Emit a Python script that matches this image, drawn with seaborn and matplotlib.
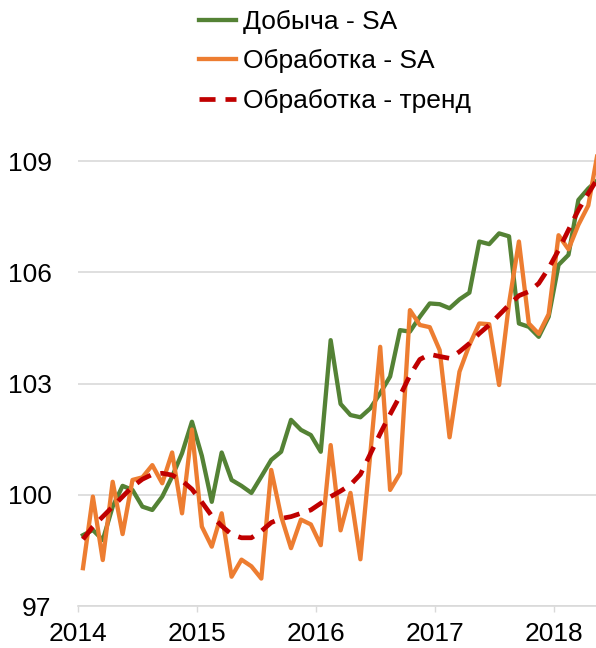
import numpy as np
import pandas as pd
import matplotlib
matplotlib.use("Agg")
import matplotlib.pyplot as plt
import seaborn as sns

# monthly index values, Jan 2014 onwards
mining_sa = [98.91, 99.05, 98.78, 99.68, 100.24, 100.13, 99.68, 99.59, 99.95, 100.49,
             101.12, 101.97, 101.05, 99.81, 101.14, 100.40, 100.24, 100.05, 100.49, 100.94,
             101.16, 102.02, 101.75, 101.61, 101.16, 104.17, 102.45, 102.15, 102.09, 102.33,
             102.74, 103.19, 104.44, 104.40, 104.80, 105.16, 105.14, 105.03, 105.27, 105.45,
             106.83, 106.76, 107.05, 106.97, 104.62, 104.53, 104.26, 104.80, 106.20, 106.47,
             107.95, 108.26, 108.50]
manuf_sa = [98.02, 99.95, 98.24, 100.35, 98.94, 100.40, 100.47, 100.80, 100.31, 101.14,
            99.50, 101.76, 99.14, 98.60, 99.50, 97.79, 98.25, 98.07, 97.74, 100.67,
            99.42, 98.56, 99.33, 99.20, 98.64, 101.34, 99.04, 100.05, 98.26, 101.10,
            103.99, 100.13, 100.58, 104.98, 104.58, 104.52, 103.90, 101.55, 103.32, 104.04,
            104.62, 104.60, 102.96, 105.16, 106.83, 104.62, 104.34, 104.87, 107.00, 106.62,
            107.28, 107.80, 109.30]
manuf_trend = [98.80, 99.14, 99.41, 99.68, 99.95, 100.22, 100.42, 100.55, 100.58, 100.53,
               100.38, 100.15, 99.80, 99.43, 99.16, 98.93, 98.84, 98.84, 99.02, 99.25,
               99.36, 99.41, 99.50, 99.59, 99.77, 99.95, 100.10, 100.27, 100.55, 101.10,
               101.65, 102.17, 102.67, 103.22, 103.65, 103.79, 103.73, 103.68, 103.86, 104.08,
               104.35, 104.58, 104.85, 105.12, 105.37, 105.48, 105.70, 106.11, 106.60, 107.14,
               107.68, 108.13, 108.55]

series_names = ["Добыча - SA", "Обработка - SA", "Обработка - тренд"]
year_ticks = [2014, 2015, 2016, 2017, 2018]
y_ticks = [97, 100, 103, 106, 109]

dates = pd.date_range("2014-01-01", periods=len(mining_sa), freq="MS")
t = dates.year + (dates.month - 0.5) / 12

df = pd.DataFrame({"t": t, "mining": mining_sa, "manuf": manuf_sa, "trend": manuf_trend})

plt.rcParams["font.family"] = ["Liberation Sans", "DejaVu Sans"]
plt.rcParams["font.size"] = 19

fig = plt.figure(figsize=(5.96, 6.48), dpi=100)
ax = fig.add_axes([78 / 596, 42 / 648, 518 / 596, 482 / 648])

sns.lineplot(data=df, x="t", y="mining", ax=ax, color="#548235", lw=3.1, label=series_names[0])
sns.lineplot(data=df, x="t", y="manuf", ax=ax, color="#ED7D31", lw=3.1, label=series_names[1])
sns.lineplot(data=df, x="t", y="trend", ax=ax, color="#C00000", lw=3.4,
             ls=(0, (3.4, 2.1)), label=series_names[2])

ax.set_xlim(2014, 2014 + 518 / 118.9)
ax.set_ylim(97, 110)
ax.set_xticks(year_ticks)
ax.set_xticklabels([str(y) for y in year_ticks])
ax.set_yticks(y_ticks)
ax.set_xlabel("")
ax.set_ylabel("")

ax.grid(axis="y", color="#D9D9D9", lw=1.2)
ax.set_axisbelow(True)
for s in ["left", "right", "top"]:
    ax.spines[s].set_visible(False)
ax.spines["bottom"].set_color("#D9D9D9")
ax.spines["bottom"].set_linewidth(1.2)
ax.tick_params(axis="y", length=0, pad=19)
ax.tick_params(axis="x", length=4.5, width=1, color="#D9D9D9", pad=7)

ax.get_legend().remove()
handles, labels = ax.get_legend_handles_labels()
fig.legend(handles, labels, loc="upper left", bbox_to_anchor=(199 / 596, 1 - 10 / 648),
           frameon=False, borderpad=0, handlelength=1.4, handletextpad=0.25,
           labelspacing=0.58, borderaxespad=0)

fig.savefig("out.png", dpi=100)
